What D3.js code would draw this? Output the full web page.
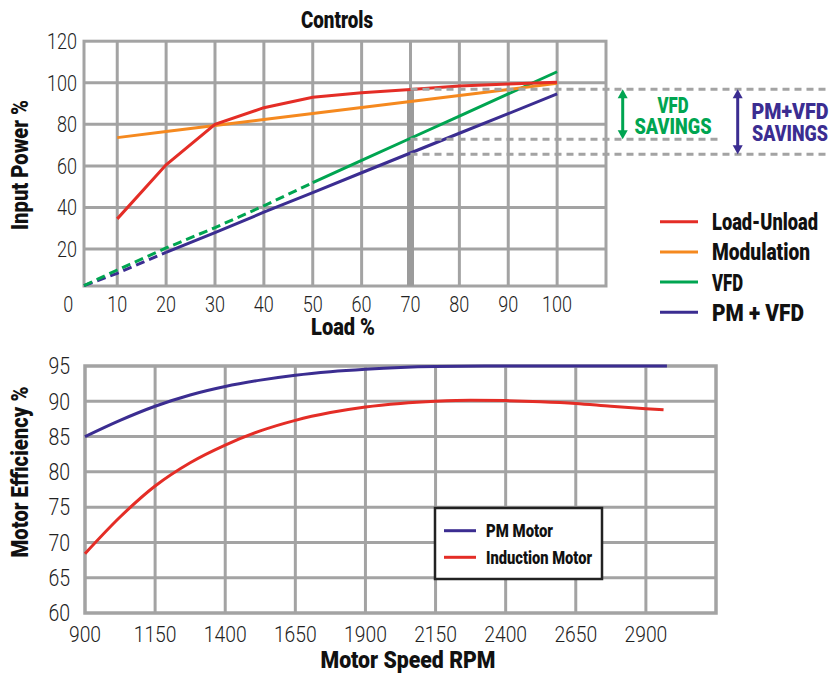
<!DOCTYPE html>
<html lang="en">
<head>
<meta charset="UTF-8">
<title>Controls</title>
<script src="https://cdn.jsdelivr.net/npm/d3@7"></script>
<style>
  body { margin: 0; background: #fff; }
  svg { display: block; font-family: Roboto, "Liberation Sans", sans-serif; }
  .grid line { stroke: #a3a3a3; stroke-width: 3; }
  .frame { fill: none; stroke: #a3a3a3; stroke-width: 3; }
  .tick-label { font-weight: 300; fill: #222; }
  .bold { font-weight: 900; fill: #111; }
</style>
</head>
<body>
<svg width="832" height="673"></svg>
<script>
// ---- top chart data: input power % vs load % ----
const loads = [10, 20, 30, 40, 50, 60, 70, 80, 90, 100];
const loadUnload = [34.5, 60.5, 80, 88, 93, 95.2, 96.8, 98.5, 99.4, 100.2];
const modulation = [73.6, 76.5, 79.4, 82.3, 85.2, 88.1, 91, 93.9, 96.8, 99.7];
const vfdLowLoads = [3.2, 10, 20, 30, 40, 50];
const vfdLow = [2.4, 9.9, 20.5, 30.3, 40.8, 51.9];
const vfdLoads = [50, 60, 70, 80, 90, 100];
const vfd = [51.9, 62.6, 73.3, 84, 94.6, 105.3];
const pmLowLoads = [3.2, 10, 20];
const pmLow = [2.4, 8.3, 18.4];
const pmLoads = [20, 30, 40, 50, 60, 70, 80, 90, 100];
const pmVfd = [18.4, 27.9, 37.7, 47.1, 56.7, 66.2, 75.7, 85.1, 94.6];
const markLoad = 70;
const savingLevels = [96.9, 72.8, 65.6];   // load-unload, VFD, PM+VFD at 70 %
const topXTicks = [0, 10, 20, 30, 40, 50, 60, 70, 80, 90, 100];
const topYTicks = [20, 40, 60, 80, 100, 120];
const topLegend = ['Load-Unload', 'Modulation', 'VFD', 'PM + VFD'];

// ---- bottom chart data: motor efficiency % vs speed ----
const pmSpeeds = [900, 1025, 1150, 1275, 1400, 1525, 1650, 1775, 1900, 2025, 2150, 2400, 2650, 2975];
const pmEff = [85, 87.3, 89.3, 90.9, 92.1, 93, 93.7, 94.2, 94.55, 94.8, 94.93, 95, 95, 95];
const indSpeeds = [900, 1025, 1150, 1275, 1400, 1525, 1650, 1775, 1900, 2025, 2150, 2275, 2400, 2525, 2650, 2775, 2900, 2963];
const indEff = [68.4, 73.6, 78, 81.3, 83.8, 85.8, 87.3, 88.4, 89.2, 89.7, 90, 90.15, 90.1, 89.95, 89.7, 89.3, 88.95, 88.8];
const botXTicks = [900, 1150, 1400, 1650, 1900, 2150, 2400, 2650, 2900];
const botYTicks = [60, 65, 70, 75, 80, 85, 90, 95];
const botLegend = ['PM Motor', 'Induction Motor'];

const RED = '#e42d26', ORANGE = '#f5891f', GREEN = '#00a551', PURPLE = '#3b2d91', GRAY = '#a3a3a3';

const svg = d3.select('svg');

// squeeze text to the condensed widths of the original lettering
function fit(sel, w) {
  return sel.attr('textLength', w).attr('lengthAdjust', 'spacingAndGlyphs');
}
function label(g, txt, x, y, size, w, anchor, color) {
  const t = g.append('text').attr('class', 'bold').attr('font-size', size)
    .attr('text-anchor', anchor || 'start').attr('x', x).attr('y', y).text(txt);
  if (color) t.style('fill', color);
  return fit(t, w);
}

// ================= top chart =================
const x1 = d3.scaleLinear().domain([3.2, 110]).range([84, 606]);
const y1 = d3.scaleLinear().domain([2.2, 120]).range([286, 41.2]);

const g1 = svg.append('g');
g1.append('g').attr('class', 'grid')
  .selectAll('line').data(loads).enter().append('line')
  .attr('x1', d => x1(d)).attr('x2', d => x1(d))
  .attr('y1', y1.range()[0]).attr('y2', y1.range()[1]);
g1.append('g').attr('class', 'grid')
  .selectAll('line').data(topYTicks.slice(0, -1)).enter().append('line')
  .attr('y1', d => y1(d)).attr('y2', d => y1(d))
  .attr('x1', x1.range()[0]).attr('x2', x1.range()[1]);
g1.append('rect').attr('class', 'frame')
  .attr('x', x1.range()[0]).attr('y', y1.range()[1])
  .attr('width', x1.range()[1] - x1.range()[0])
  .attr('height', y1.range()[0] - y1.range()[1]);

// marker bar at 70 % load
g1.append('rect')
  .attr('x', x1(markLoad) - 3.5).attr('width', 7)
  .attr('y', y1(savingLevels[0])).attr('height', y1.range()[0] - y1(savingLevels[0]))
  .attr('fill', '#9b9b9b');

const line1 = d3.line().x(d => x1(d[0])).y(d => y1(d[1]));
function series(xs, ys) { return xs.map((v, i) => [v, ys[i]]); }
function drawTop(xs, ys, color, dash) {
  g1.append('path').datum(series(xs, ys))
    .attr('d', line1).attr('fill', 'none')
    .attr('stroke', color).attr('stroke-width', 3)
    .attr('stroke-dasharray', dash || null);
}
drawTop(pmLowLoads, pmLow, PURPLE, '9,5');
drawTop(vfdLowLoads, vfdLow, GREEN, '9,5');
drawTop(pmLoads, pmVfd, PURPLE);
drawTop(vfdLoads, vfd, GREEN);
drawTop(loads, modulation, ORANGE);
drawTop(loads, loadUnload, RED);

// savings guide lines
const guideEnds = [830, 718, 830];
g1.selectAll('.guide').data(savingLevels).enter().append('line')
  .attr('x1', x1(markLoad)).attr('x2', (d, i) => guideEnds[i])
  .attr('y1', d => y1(d)).attr('y2', d => y1(d))
  .attr('stroke', GRAY).attr('stroke-width', 3).attr('stroke-dasharray', '7,5');

function arrow(x, v0, v1, color) {
  const a = y1(v0), b = y1(v1);
  g1.append('line').attr('x1', x).attr('x2', x).attr('y1', a + 6).attr('y2', b - 6)
    .attr('stroke', color).attr('stroke-width', 3);
  g1.append('path').attr('d', `M${x - 5},${a + 9}L${x},${a}L${x + 5},${a + 9}Z`).attr('fill', color);
  g1.append('path').attr('d', `M${x - 5},${b - 9}L${x},${b}L${x + 5},${b - 9}Z`).attr('fill', color);
}
arrow(622.7, savingLevels[0], savingLevels[1], GREEN);
arrow(737.7, savingLevels[0], savingLevels[2], PURPLE);

label(g1, 'VFD', 673, 113, 22, 31, 'middle', GREEN);
label(g1, 'SAVINGS', 673, 134, 22, 77, 'middle', GREEN);
label(g1, 'PM+VFD', 790, 119, 22, 77, 'middle', PURPLE);
label(g1, 'SAVINGS', 790, 141, 22, 76, 'middle', PURPLE);

// tick labels
g1.selectAll('.xt').data(topXTicks).enter().append('text')
  .attr('class', 'tick-label').attr('font-size', 21.5).attr('text-anchor', 'middle')
  .attr('x', d => x1(d)).attr('y', 312).text(d => d)
  .attr('textLength', d => String(d).length * 10).attr('lengthAdjust', 'spacingAndGlyphs');
g1.selectAll('.yt').data(topYTicks).enter().append('text')
  .attr('class', 'tick-label').attr('font-size', 21.5).attr('text-anchor', 'end')
  .attr('x', 77).attr('y', d => y1(d)).attr('dy', '0.36em').text(d => d)
  .attr('textLength', d => String(d).length * 10).attr('lengthAdjust', 'spacingAndGlyphs');

label(g1, 'Controls', 337, 28, 23, 72, 'middle');
label(g1, 'Load %', 343, 335, 23, 64, 'middle');
label(g1, 'Input Power %', 0, 0, 23, 130, 'middle').attr('transform', 'translate(28,165) rotate(-90)');

// legend
const topColors = [RED, ORANGE, GREEN, PURPLE];
const topLegendW = [106, 98, 31, 92];
topLegend.forEach((name, i) => {
  const yy = 221.7 + i * 30.2;
  g1.append('line').attr('x1', 660).attr('x2', 698).attr('y1', yy).attr('y2', yy)
    .attr('stroke', topColors[i]).attr('stroke-width', 3);
  label(g1, name, 712, yy + 8.5, 23.5, topLegendW[i]);
});

// ================= bottom chart =================
const x2 = d3.scaleLinear().domain([900, 3150]).range([85, 716]);
const y2 = d3.scaleLinear().domain([60, 95]).range([613, 366]);

const g2 = svg.append('g');
g2.append('g').attr('class', 'grid')
  .selectAll('line').data(botXTicks.slice(1)).enter().append('line')
  .attr('x1', d => x2(d)).attr('x2', d => x2(d))
  .attr('y1', y2.range()[0]).attr('y2', y2.range()[1]);
g2.append('g').attr('class', 'grid')
  .selectAll('line').data(botYTicks.slice(1, -1)).enter().append('line')
  .attr('y1', d => y2(d)).attr('y2', d => y2(d))
  .attr('x1', x2.range()[0]).attr('x2', x2.range()[1]);
g2.append('rect').attr('class', 'frame').style('stroke-width', 3.5)
  .attr('x', x2.range()[0]).attr('y', y2.range()[1])
  .attr('width', x2.range()[1] - x2.range()[0])
  .attr('height', y2.range()[0] - y2.range()[1]);

const line2 = d3.line().curve(d3.curveMonotoneX).x(d => x2(d[0])).y(d => y2(d[1]));
g2.append('path').datum(series(indSpeeds, indEff)).attr('d', line2)
  .attr('fill', 'none').attr('stroke', RED).attr('stroke-width', 3);
g2.append('path').datum(series(pmSpeeds, pmEff)).attr('d', line2)
  .attr('fill', 'none').attr('stroke', PURPLE).attr('stroke-width', 3);

g2.selectAll('.xt').data(botXTicks).enter().append('text')
  .attr('class', 'tick-label').attr('font-size', 22.5).attr('text-anchor', 'middle')
  .attr('x', d => x2(d)).attr('y', 642).text(d => d)
  .attr('textLength', d => String(d).length * 10.7).attr('lengthAdjust', 'spacingAndGlyphs');
g2.selectAll('.yt').data(botYTicks).enter().append('text')
  .attr('class', 'tick-label').attr('font-size', 23).attr('text-anchor', 'end')
  .attr('x', 70).attr('y', d => y2(d)).attr('dy', '0.36em').text(d => d)
  .attr('textLength', d => String(d).length * 10.8).attr('lengthAdjust', 'spacingAndGlyphs');

label(g2, 'Motor Speed RPM', 408, 668, 23, 175, 'middle');
label(g2, 'Motor Efficiency %', 0, 0, 23, 171, 'middle').attr('transform', 'translate(28,472) rotate(-90)');

// legend box
g2.append('rect').attr('x', 435).attr('y', 508).attr('width', 167).attr('height', 71)
  .attr('fill', '#fff').attr('stroke', '#222').attr('stroke-width', 2.5);
const botColors = [PURPLE, RED];
const botLegendW = [67, 106];
botLegend.forEach((name, i) => {
  const yy = 530.7 + i * 26.6;
  g2.append('line').attr('x1', 444).attr('x2', 476).attr('y1', yy).attr('y2', yy)
    .attr('stroke', botColors[i]).attr('stroke-width', 3);
  label(g2, name, 486, yy + 6.5, 18.5, botLegendW[i]);
});
</script>
</body>
</html>
